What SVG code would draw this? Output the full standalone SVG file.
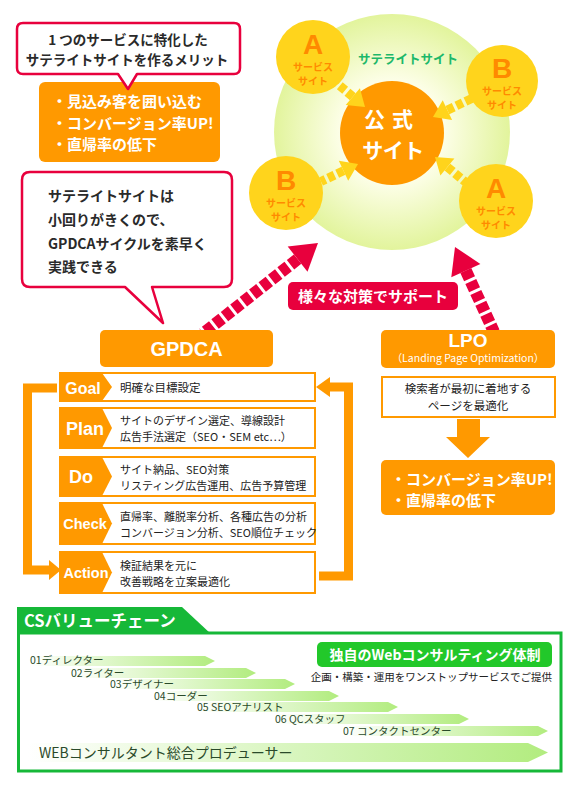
<svg xmlns="http://www.w3.org/2000/svg" width="576" height="791" viewBox="0 0 576 791">
<defs>
<radialGradient id="glow" cx="50%" cy="50%" r="50%">
<stop offset="0" stop-color="#ffffff"/>
<stop offset="0.45" stop-color="#fcfee6"/>
<stop offset="1" stop-color="#e2f49c"/>
</radialGradient>
<linearGradient id="band" x1="0" y1="0" x2="1" y2="0">
<stop offset="0" stop-color="#ffffff"/>
<stop offset="1" stop-color="#b2ec7f"/>
</linearGradient>
<style>
.jp{font-family:"Noto Sans CJK JP","Noto Sans",sans-serif}
.b{font-weight:bold}
.or{fill:#ff9900}
.wt{fill:#ffffff}
.dk{fill:#2a2a2a}
.red{fill:#e8003d}
.sat{fill:#ffd41c}
.satX{fill:#ff8a00;font-family:"Noto Sans CJK JP",sans-serif;font-weight:bold;font-size:10px;text-anchor:middle}
.satL{fill:#ff8a00;font-family:"Liberation Sans",Arial,sans-serif;font-weight:bold;font-size:28px;text-anchor:middle}
.call{fill:#ffffff;stroke:#e8003d;stroke-width:2.5;stroke-linejoin:round}
.row{fill:#ffffff;stroke:#ff9900;stroke-width:2}
.lbl{fill:#ffffff;font-family:"Liberation Sans",Arial,sans-serif;font-weight:bold;text-anchor:middle}
.desc{fill:#222;font-family:"Noto Sans CJK JP",sans-serif;font-size:11px}
.rsh{stroke:#e8003d;stroke-width:12;stroke-dasharray:9 3;fill:none}
.ysh{stroke:#ffd41c;stroke-width:9;stroke-dasharray:7 3;fill:none}
.loop{stroke:#ff9900;stroke-width:9;fill:none;stroke-linejoin:miter}
.bandT{fill:#2a4a2a;font-family:"Noto Sans CJK JP",sans-serif;font-size:10.5px}
</style>
</defs>
<rect width="576" height="791" fill="#ffffff"/>

<g id="satellite-area">
<circle cx="392" cy="132" r="118" fill="url(#glow)"/>
<text x="408" y="64" class="jp b" font-size="12.5" fill="#1db86a" text-anchor="middle">サテライトサイト</text>
</g>

<g id="official-site">
<circle cx="392" cy="133" r="52" class="or"/>
<text x="392" y="127" class="jp b wt" font-size="21" text-anchor="middle" letter-spacing="7">公式</text>
<text x="393" y="158" class="jp b wt" font-size="21" text-anchor="middle" letter-spacing="-0.5">サイト</text>
</g>

<g id="connectors">
<line x1="352.8" y1="96.7" x2="333" y2="80" class="ysh"/>
<polygon points="365,107 345.7,105.1 359.9,88.3" class="sat"/>
<line x1="447.4" y1="110.1" x2="476" y2="96.5" class="ysh"/>
<polygon points="433,117 442.7,100.2 452.1,120" class="sat"/>
<line x1="343.5" y1="170.8" x2="321" y2="181.5" class="ysh"/>
<polygon points="358,164 348.2,180.8 338.8,160.8" class="sat"/>
<line x1="447.4" y1="167.1" x2="469" y2="185" class="ysh"/>
<polygon points="435,157 454.4,158.6 440.4,175.6" class="sat"/>
<line x1="297.6" y1="259.1" x2="203" y2="333.5" class="rsh"/>
<polygon points="318,243 307.5,271.7 287.7,246.5" class="red"/>
<line x1="465.8" y1="270.6" x2="494" y2="332" class="rsh"/>
<polygon points="455,247 480.4,263.9 451.3,277.3" class="red"/>
<polyline points="57,388 27.5,388 27.5,570 50,570" class="loop"/>
<polygon points="49,560 61,570 49,580" class="or"/>
<polyline points="319,576 348.5,576 348.5,387 329,387" class="loop"/>
<polygon points="330,377 316,387 330,397" class="or"/>
<polygon points="457,419 480,419 480,437 490,437 468,458 446,437 457,437" class="or"/>
</g>

<g id="sat-a1">
<circle cx="313" cy="57" r="37" class="sat"/>
<text x="313" y="54" class="satL">A</text>
<text x="313" y="71" class="satX">サービス</text>
<text x="313" y="85" class="satX">サイト</text>
</g>
<g id="sat-b1">
<circle cx="502" cy="81" r="36" class="sat"/>
<text x="502" y="78" class="satL">B</text>
<text x="502" y="95" class="satX">サービス</text>
<text x="502" y="109" class="satX">サイト</text>
</g>
<g id="sat-b2">
<circle cx="286" cy="193" r="37" class="sat"/>
<text x="286" y="190" class="satL">B</text>
<text x="286" y="207" class="satX">サービス</text>
<text x="286" y="221" class="satX">サイト</text>
</g>
<g id="sat-a2">
<circle cx="496" cy="201" r="37" class="sat"/>
<text x="496" y="198" class="satL">A</text>
<text x="496" y="215" class="satX">サービス</text>
<text x="496" y="229" class="satX">サイト</text>
</g>

<g id="support-label">
<rect x="288" y="282" width="170" height="28" rx="5" class="red"/>
<text x="373" y="302" class="jp b wt" font-size="15" text-anchor="middle">様々な対策でサポート</text>
</g>

<g id="merit-box">
<rect x="39" y="82" width="181" height="80" rx="6" class="or"/>
<text x="52" y="107" class="jp b wt" font-size="15">・見込み客を囲い込む</text>
<text x="52" y="129" class="jp b wt" font-size="15">・コンバージョン率UP!</text>
<text x="52" y="150" class="jp b wt" font-size="15">・直帰率の低下</text>
</g>

<g id="callout-merit">
<path d="M23,23 H234 Q240,23 240,29 V68 Q240,74 234,74 H137 L128,89 L118,74 H23 Q17,74 17,68 V29 Q17,23 23,23 Z" class="call"/>
<text x="128" y="45" class="jp b dk" font-size="13.5" text-anchor="middle">1 つのサービスに特化した</text>
<text x="127" y="65" class="jp b dk" font-size="13.5" text-anchor="middle">サテライトサイトを作るメリット</text>
</g>

<g id="callout-gpdca">
<path d="M30,172 H224 Q232,172 232,180 V279 Q232,287 224,287 H152 L163,323 L125,287 H30 Q22,287 22,279 V180 Q22,172 30,172 Z" class="call"/>
<text x="48" y="201" class="jp b dk" font-size="14">サテライトサイトは</text>
<text x="48" y="225" class="jp b dk" font-size="14">小回りがきくので、</text>
<text x="48" y="249" class="jp b dk" font-size="14">GPDCAサイクルを素早く</text>
<text x="48" y="272" class="jp b dk" font-size="14">実践できる</text>
</g>

<g id="gpdca">
<rect x="100" y="330" width="173" height="37" rx="5" class="or"/>
<text x="186.5" y="356" class="lbl" font-size="20">GPDCA</text>
</g>

<g id="goal">
<rect x="60" y="373" width="255" height="28" class="row"/>
<polygon points="60,373 102,373 112,387 102,401 60,401" class="or"/>
<text x="83" y="394" class="lbl" font-size="16">Goal</text>
<text x="120" y="392" class="desc" style="font-size:11.5px">明確な目標設定</text>
</g>
<g id="plan">
<rect x="60" y="408" width="255" height="40" class="row"/>
<polygon points="60,408 102,408 112,428 102,448 60,448" class="or"/>
<text x="85" y="435" class="lbl" font-size="18">Plan</text>
<text x="120" y="425" class="desc">サイトのデザイン選定、導線設計</text>
<text x="120" y="441" class="desc">広告手法選定（SEO・SEM etc…）</text>
</g>
<g id="do">
<rect x="60" y="457" width="255" height="39" class="row"/>
<polygon points="60,457 102,457 112,476.5 102,496 60,496" class="or"/>
<text x="81" y="483" class="lbl" font-size="18">Do</text>
<text x="120" y="474" class="desc">サイト納品、SEO対策</text>
<text x="120" y="490" class="desc">リスティング広告運用、広告予算管理</text>
</g>
<g id="check">
<rect x="60" y="503" width="255" height="41" class="row"/>
<polygon points="60,503 102,503 112,523.5 102,544 60,544" class="or"/>
<text x="85" y="529" class="lbl" font-size="14.5">Check</text>
<text x="120" y="521" class="desc">直帰率、離脱率分析、各種広告の分析</text>
<text x="120" y="537" class="desc">コンバージョン分析、SEO順位チェック</text>
</g>
<g id="action">
<rect x="60" y="552" width="255" height="41" class="row"/>
<polygon points="60,552 102,552 112,572.5 102,593 60,593" class="or"/>
<text x="86" y="578" class="lbl" font-size="14.5">Action</text>
<text x="120" y="570" class="desc">検証結果を元に</text>
<text x="120" y="586" class="desc">改善戦略を立案最適化</text>
</g>

<g id="lpo">
<rect x="381" y="330" width="174" height="38" rx="5" class="or"/>
<text x="468" y="347" class="lbl" font-size="19">LPO</text>
<text x="468" y="362" class="jp wt" font-size="10.5" text-anchor="middle">（Landing Page Optimization）</text>
</g>
<g id="lpo-desc">
<rect x="382" y="377" width="173" height="40" class="row"/>
<text x="468" y="393" class="desc" style="font-size:11.5px" text-anchor="middle">検索者が最初に着地する</text>
<text x="468" y="410" class="desc" style="font-size:11.5px" text-anchor="middle">ページを最適化</text>
</g>
<g id="lpo-result">
<rect x="381" y="460" width="174" height="55" rx="5" class="or"/>
<text x="391" y="485" class="jp b wt" font-size="15">・コンバージョン率UP!</text>
<text x="391" y="506" class="jp b wt" font-size="15">・直帰率の低下</text>
</g>

<g id="cs-value-chain">
<rect x="18.5" y="633" width="542.5" height="138" fill="#ffffff" stroke="#16b838" stroke-width="3"/>
<polygon points="17,607 182,607 211,634 17,634" fill="#16b838"/>
<text x="24" y="627" class="jp b wt" font-size="16.5">CSバリューチェーン</text>
</g>

<g id="web-consulting">
<rect x="317" y="642" width="235" height="25" rx="5" fill="#22c82a"/>
<text x="435" y="660" class="jp b wt" font-size="14" text-anchor="middle">独自のWebコンサルティング体制</text>
<text x="552" y="681" class="jp" font-size="10.5" fill="#222" text-anchor="end">企画・構築・運用をワンストップサービスでご提供</text>
</g>

<g id="chain-01"><polygon points="30,656 205,656 215,661 205,666 30,666" fill="url(#band)"/><text x="30" y="664" class="bandT">01ディレクター</text></g>
<g id="chain-02"><polygon points="71,668 246,668 256,673 246,678 71,678" fill="url(#band)"/><text x="71" y="677" class="bandT">02ライター</text></g>
<g id="chain-03"><polygon points="110,679 285,679 295,684 285,689 110,689" fill="url(#band)"/><text x="110" y="688" class="bandT">03デザイナー</text></g>
<g id="chain-04"><polygon points="154,691 329,691 339,696 329,701 154,701" fill="url(#band)"/><text x="154" y="700" class="bandT">04コーダー</text></g>
<g id="chain-05"><polygon points="197,702 388,702 398,707 388,712 197,712" fill="url(#band)"/><text x="197" y="711" class="bandT">05 SEOアナリスト</text></g>
<g id="chain-06"><polygon points="275,714 459,714 469,719 459,724 275,724" fill="url(#band)"/><text x="275" y="723" class="bandT">06 QCスタッフ</text></g>
<g id="chain-07"><polygon points="343,726 538,726 548,731 538,736 343,736" fill="url(#band)"/><text x="343" y="735" class="bandT">07 コンタクトセンター</text></g>
<g id="chain-producer"><polygon points="28,743 528,743 548,752.5 528,762 28,762" fill="url(#band)"/><text x="39" y="758" class="bandT" style="font-size:14px">WEBコンサルタント総合プロデューサー</text></g>
</svg>
